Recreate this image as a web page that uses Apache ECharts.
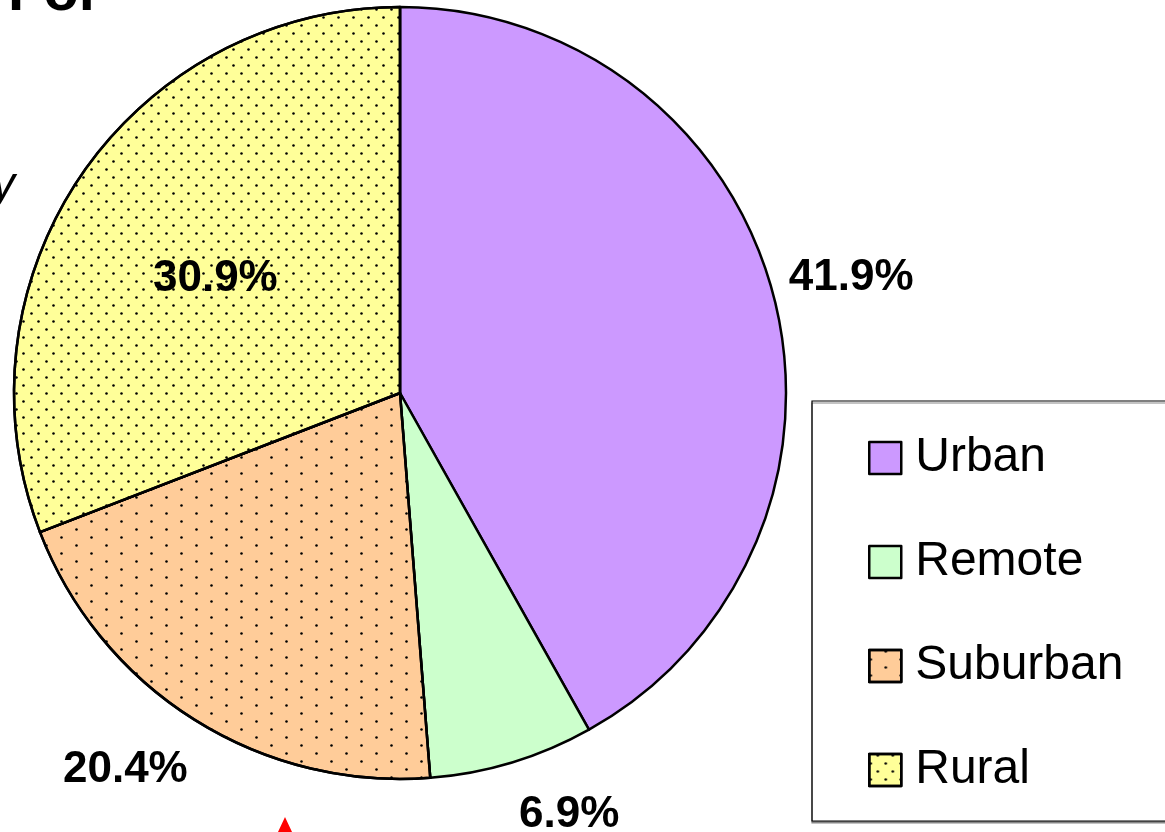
<!DOCTYPE html>
<html>
<head>
<meta charset="utf-8">
<title>Locale share</title>
<script src="https://cdn.jsdelivr.net/npm/echarts@6/dist/echarts.min.js"></script>
<style>
  html, body { margin: 0; padding: 0; background: #fff; }
  #pie { width: 1165px; height: 832px; }
</style>
</head>
<body>
<div id="pie"></div>
<script>
var categories = ['Urban', 'Remote', 'Suburban', 'Rural'];
var shares = [41.9, 6.9, 20.4, 30.9];
var sliceColors = ['#CC99FF', '#CCFFCC', '#FFCC99', '#FFFF99'];

// small nudges for the percent labels (pixels)
var labelShift = [[-9, -12], [-4, 33], [9, 33], [-23, -3]];

var dotsDense = {
    symbol: 'circle', symbolSize: 0.85, color: '#000',
    dashArrayX: [[3, 12], [0, 7, 3, 5]],
    dashArrayY: [3, 5]
};
var dotsSparse = {
    symbol: 'circle', symbolSize: 0.85, color: '#000',
    dashArrayX: [[3, 27], [0, 15, 3, 12]],
    dashArrayY: [3, 5]
};
var decals = [null, null, dotsSparse, dotsDense];

var pieData = categories.map(function (name, i) {
    var item = {
        name: name,
        value: shares[i],
        itemStyle: { color: sliceColors[i] }
    };
    if (decals[i]) item.itemStyle.decal = decals[i];
    if (name === 'Rural') item.label = { position: 'inside' };
    return item;
});

var myChart = echarts.init(document.getElementById('pie'));

myChart.setOption({
    backgroundColor: '#fff',
    animation: false,
    graphic: [
        { type: 'text', x: 8, y: -6,
          style: { text: 'For', font: 'bold 58px "Liberation Sans"', fill: '#000', verticalAlign: 'middle' } },
        { type: 'text', x: -8, y: 186,
          style: { text: 'y', font: 'italic 46px "Liberation Sans"', fill: '#000', verticalAlign: 'middle' } },
        { type: 'polygon', shape: { points: [[285, 817], [278, 832], [292, 832]] },
          style: { fill: '#ff0000' } }
    ],
    legend: {
        orient: 'vertical',
        left: 812,
        top: 401,
        padding: [33, 56, 27, 56],
        itemGap: 56,
        itemWidth: 32,
        itemHeight: 32,
        icon: 'rect',
        selectedMode: false,
        backgroundColor: '#fff',
        borderColor: '#000',
        borderWidth: 1.2,
        shadowColor: '#888',
        shadowOffsetY: 2,
        shadowBlur: 0,
        itemStyle: { borderColor: '#000', borderWidth: 2.5 },
        textStyle: {
            fontFamily: 'Liberation Sans',
            fontSize: 48,
            color: '#000',
            padding: [0, 0, 0, 9]
        },
        data: categories
    },
    series: [{
        type: 'pie',
        center: [400, 393],
        radius: 386,
        startAngle: 90,
        clockwise: true,
        avoidLabelOverlap: false,
        emphasis: { disabled: true },
        itemStyle: { borderColor: '#000', borderWidth: 2.5 },
        label: {
            show: true,
            position: 'outside',
            formatter: '{c}%',
            fontFamily: 'Liberation Sans',
            fontWeight: 'bold',
            fontSize: 44,
            color: '#000',
            distanceToLabelLine: 5
        },
        labelLine: { show: false, length: 20, length2: 0 },
        labelLayout: function (p) {
            return { dx: labelShift[p.dataIndex][0], dy: labelShift[p.dataIndex][1] };
        },
        data: pieData
    }]
});
</script>
</body>
</html>
